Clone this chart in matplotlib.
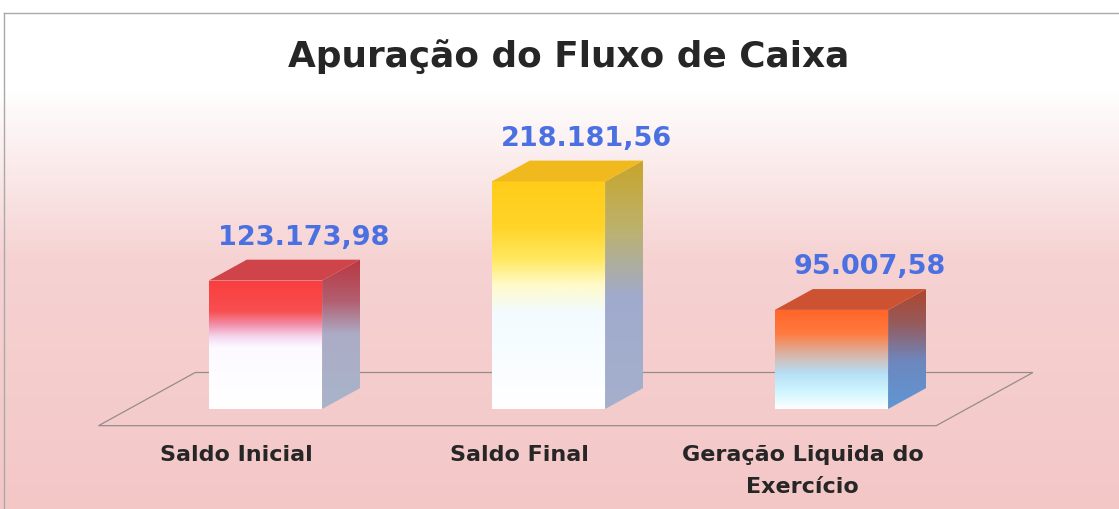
import numpy as np
import matplotlib
matplotlib.use('Agg')
import matplotlib.pyplot as plt
from matplotlib.patches import Polygon
from matplotlib.transforms import ScaledTranslation

# ── Data ──
categories = ['Saldo Inicial', 'Saldo Final', 'Geração Liquida do\nExercício']
values = [123173.98, 218181.56, 95007.58]
title = 'Apuração do Fluxo de Caixa'

# ── Style ──
W, H = 1119, 510
TEXT = '#262626'
VALUE_BLUE = '#4a70e2'
BAR_W = 0.40
DX, DY = 0.134, 20000          # oblique depth of the fake 3D bars (data units)
YMAX = 250000

# gradient stops, bottom (0) -> top (1), RGB 0-255
FRONT = [
    [(0, (255, 255, 255)), (0.48, (252, 250, 255)), (0.56, (245, 215, 240)),
     (0.66, (242, 140, 165)), (0.76, (248, 78, 80)), (1, (250, 62, 62))],
    [(0, (255, 255, 255)), (0.42, (242, 251, 255)), (0.54, (255, 251, 205)),
     (0.66, (255, 232, 95)), (0.80, (255, 212, 40)), (1, (255, 204, 25))],
    [(0, (255, 255, 255)), (0.18, (205, 246, 255)), (0.36, (182, 222, 246)),
     (0.55, (218, 180, 165)), (0.76, (255, 122, 62)), (1, (255, 100, 40))],
]
SIDE = [
    [(0, (168, 180, 202)), (0.5, (172, 172, 198)), (0.72, (178, 95, 112)), (1, (185, 55, 65))],
    [(0, (165, 176, 204)), (0.45, (160, 170, 205)), (0.72, (188, 178, 110)), (1, (200, 165, 40))],
    [(0, (95, 150, 212)), (0.4, (110, 135, 190)), (0.72, (150, 90, 90)), (1, (175, 70, 45))],
]
TOP = ['#cf4449', '#f0b91e', '#cd5232']


def ramp(stops):
    pos = [p for p, _ in stops]
    cols = np.array([c for _, c in stops], dtype=float) / 255
    t = np.linspace(0, 1, 256)
    arr = np.stack([np.interp(t, pos, cols[:, k]) for k in range(3)], axis=-1)
    return arr[:, None, :]


def gradient_face(ax, verts, stops, zorder):
    patch = Polygon(verts, closed=True, facecolor='none', edgecolor='none',
                    transform=ax.transData)
    ax.add_patch(patch)
    xs = [v[0] for v in verts]
    ys = [v[1] for v in verts]
    im = ax.imshow(ramp(stops), extent=(min(xs), max(xs), min(ys), max(ys)),
                   origin='lower', aspect='auto', interpolation='bilinear',
                   zorder=zorder)
    im.set_clip_path(patch)


def fmt_br(v):
    return f'{v:,.2f}'.replace(',', 'X').replace('.', ',').replace('X', '.')


fig = plt.figure(figsize=(W / 100, H / 100), dpi=100)

# background: white top fading to soft pink
bg = fig.add_axes([0, 0, 1, 1], zorder=-1)
ypix = np.linspace(H, 0, 512)   # row 0 = bottom
bg_stops_y = [0, 90, 260, H]
bg_cols = np.array([(255, 255, 255), (255, 255, 255), (246, 210, 210), (244, 199, 199)]) / 255
bg_arr = np.stack([np.interp(ypix, bg_stops_y, bg_cols[:, k]) for k in range(3)], axis=-1)
bg.imshow(bg_arr[:, None, :], extent=(0, 1, 0, 1), origin='lower', aspect='auto')
bg.fill_between([0, 1], 1 - 14 / H, 1, color='white', zorder=2)
bg.plot([4 / W, 4 / W], [0, 1 - 14 / H], color='#a9a9a9', lw=1, zorder=3)
bg.plot([4 / W, 1], [1 - 14 / H] * 2, color='#a9a9a9', lw=1, zorder=3)
bg.set_xlim(0, 1)
bg.set_ylim(0, 1)
bg.axis('off')

ax = fig.add_axes([124 / W, 100 / H, 849 / W, (YMAX * 1.043e-3) / H])
ax.patch.set_alpha(0)
x = np.arange(len(values))

# floor plane
fl, fr, fy = -0.59, len(values) - 0.63, -16000
floor = [(fl, fy), (fr, fy), (fr + 2.55 * DX, fy + 2.55 * DY), (fl + 2.55 * DX, fy + 2.55 * DY)]
ax.add_patch(Polygon(floor, closed=True, fill=False, edgecolor='#968c8c',
                     lw=0.9, clip_on=False, zorder=1))

bars = ax.bar(x, values, width=BAR_W, color='none', edgecolor='none', zorder=3)
for i, (bar, v) in enumerate(zip(bars, values)):
    x0 = bar.get_x()
    x1 = x0 + bar.get_width()
    h = bar.get_height()
    # side face
    gradient_face(ax, [(x1, 0), (x1 + DX, DY), (x1 + DX, h + DY), (x1, h)], SIDE[i], 3)
    # front face
    gradient_face(ax, [(x0, 0), (x1, 0), (x1, h), (x0, h)], FRONT[i], 4)
    # top face
    ax.add_patch(Polygon([(x0, h), (x0 + DX, h + DY), (x1 + DX, h + DY), (x1, h)],
                         closed=True, facecolor=TOP[i], edgecolor='none', zorder=4))
    ax.annotate(fmt_br(v), xy=(bar.get_x() + bar.get_width() / 2 + DX, h + DY),
                xytext=(0, 7), textcoords='offset points', ha='center', va='bottom',
                fontsize=19.5, fontweight='bold', color=VALUE_BLUE,
                family='DejaVu Sans')

ax.set_xlim(-0.5, len(values) - 0.5)
ax.set_ylim(0, YMAX)
ax.set_xticks(x)
ax.set_xticklabels(categories, fontsize=16, fontweight='bold', color=TEXT,
                   family='DejaVu Sans')
ax.set_yticks([])
ax.tick_params(axis='x', length=0, pad=25.5)
shift = ScaledTranslation(-0.29, 0, fig.dpi_scale_trans)
for lbl in ax.get_xticklabels():
    lbl.set_transform(lbl.get_transform() + shift)
    lbl.set_linespacing(1.7)
for s in ax.spines.values():
    s.set_visible(False)

fig.text(569 / W, 1 - 57 / H, title, ha='center', va='center', fontsize=25.8,
         fontweight='bold', color=TEXT, family='DejaVu Sans')

fig.savefig('out.png', dpi=100)
